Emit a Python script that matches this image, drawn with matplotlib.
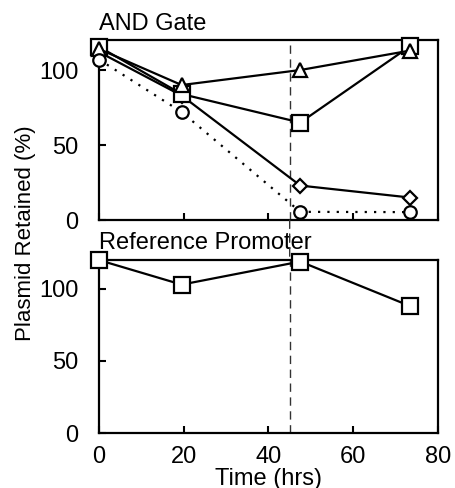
import matplotlib
matplotlib.use('Agg')
import matplotlib.pyplot as plt
from matplotlib.patches import ConnectionPatch

plt.rcParams['font.family'] = ['Liberation Sans', 'DejaVu Sans']

# data
t = [0, 19.5, 47.5, 73.5]
and_square = [115.5, 84, 65, 116]
and_triangle = [114, 90, 100, 113]
and_diamond = [112, 83, 23, 15]
and_circle = [107, 72, 5.5, 5.3]
ref_square = [120, 103, 119, 88]
cutoff = 45
yticks = [0, 50, 100]
xticks = [0, 20, 40, 60, 80]

fig = plt.figure(figsize=(4.55, 4.88), dpi=100)
ax1 = fig.add_axes([0.2176, 0.549, 0.745, 0.369])
ax2 = fig.add_axes([0.2176, 0.1127, 0.745, 0.3543])

mk = dict(color='black', markerfacecolor='white', markeredgecolor='black',
          markeredgewidth=1.6, linewidth=1.6, clip_on=False, zorder=3)

ax1.plot(t, and_diamond, marker='D', markersize=7.5, **mk)
ax1.plot(t, and_square, marker='s', markersize=11, **mk)
ax1.plot(t, and_triangle, marker='^', markersize=10, **mk)
ax1.plot(t, and_circle, marker='o', markersize=9, linestyle=(0, (1, 3.2)), **mk)
ax2.plot(t, ref_square, marker='s', markersize=11, **mk)

for ax in (ax1, ax2):
    ax.set_xlim(0, 80)
    ax.set_ylim(0, 120)
    ax.set_yticks(yticks)
    ax.set_xticks(xticks)
    ax.tick_params(direction='in', length=5, width=1.5, labelsize=17,
                   right=False, top=False)
    ax.tick_params(axis='y', pad=15)
    ax.tick_params(axis='x', pad=9)
    for s in ax.spines.values():
        s.set_linewidth(1.6)
    ax.axvline(cutoff, color='#333333', linewidth=1, linestyle=(0, (6, 4)), zorder=1)

ax1.tick_params(labelbottom=False)
ax1.text(0, 1.03, 'AND Gate', transform=ax1.transAxes, fontsize=17, ha='left', va='bottom')
ax2.text(0, 1.035, 'Reference Promoter', transform=ax2.transAxes, fontsize=17, ha='left', va='bottom')
ax2.set_xlabel('Time (hrs)', fontsize=17, labelpad=0)

con = ConnectionPatch(xyA=(cutoff, 0), coordsA=ax1.transData,
                      xyB=(cutoff, 120), coordsB=ax2.transData,
                      color='#333333', linewidth=1, linestyle=(0, (6, 4)))
fig.add_artist(con)

fig.text(0.057, 0.522, 'Plasmid Retained (%)', rotation=90, fontsize=16,
         ha='center', va='center')

fig.savefig('out.png', dpi=100)
